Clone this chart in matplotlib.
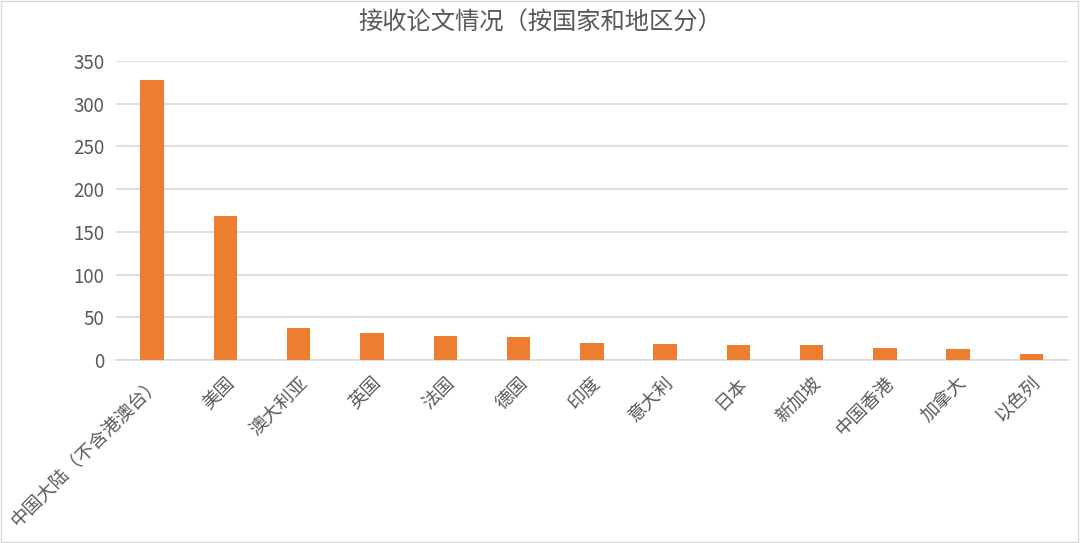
import matplotlib
matplotlib.use("Agg")
import matplotlib.pyplot as plt

plt.rcParams['font.family'] = ['Noto Sans CJK SC', 'DejaVu Sans']

# data
regions = ['中国大陆（不含港澳台）', '美国', '澳大利亚', '英国', '法国', '德国', '印度',
           '意大利', '日本', '新加坡', '中国香港', '加拿大', '以色列']
papers = [327, 168, 37, 32, 28, 27, 20, 19, 18, 18, 14, 13, 7]
yticks = [0, 50, 100, 150, 200, 250, 300, 350]

grey = '#595959'
fig = plt.figure(figsize=(10.8, 5.43), dpi=100)
ax = fig.add_axes([0.107, 0.337, 0.882, 0.551])

x = range(len(regions))
ax.bar(x, papers, width=0.32, color='#ED7D31', zorder=3)

ax.set_ylim(0, 350)
ax.set_xlim(-0.5, len(regions) - 0.5)
ax.set_yticks(yticks)
ax.set_yticklabels([str(v) for v in yticks], fontsize=13.5, color=grey)
ax.set_xticks(list(x))
ax.set_xticklabels(regions, rotation=45, ha='right', rotation_mode='anchor',
                   fontsize=13.3, color=grey)
ax.tick_params(axis='x', length=0, pad=10)
ax.tick_params(axis='y', length=0, pad=8)
ax.grid(axis='y', color='#d9d9d9', linewidth=1.2, zorder=0)
for s in ['top', 'right', 'left']:
    ax.spines[s].set_visible(False)
ax.spines['bottom'].set_color('#d9d9d9')
ax.spines['bottom'].set_linewidth(1.2)

fig.text(0.5, 0.958, '接收论文情况（按国家和地区分）', ha='center', va='center',
         fontsize=17.5, color=grey)

# thin chart border
fig.patches.append(plt.Rectangle((0.001, 0.002), 0.997, 0.996, transform=fig.transFigure,
                                 fill=False, edgecolor='#d9d9d9', linewidth=1))

fig.savefig('out.png', dpi=100)
